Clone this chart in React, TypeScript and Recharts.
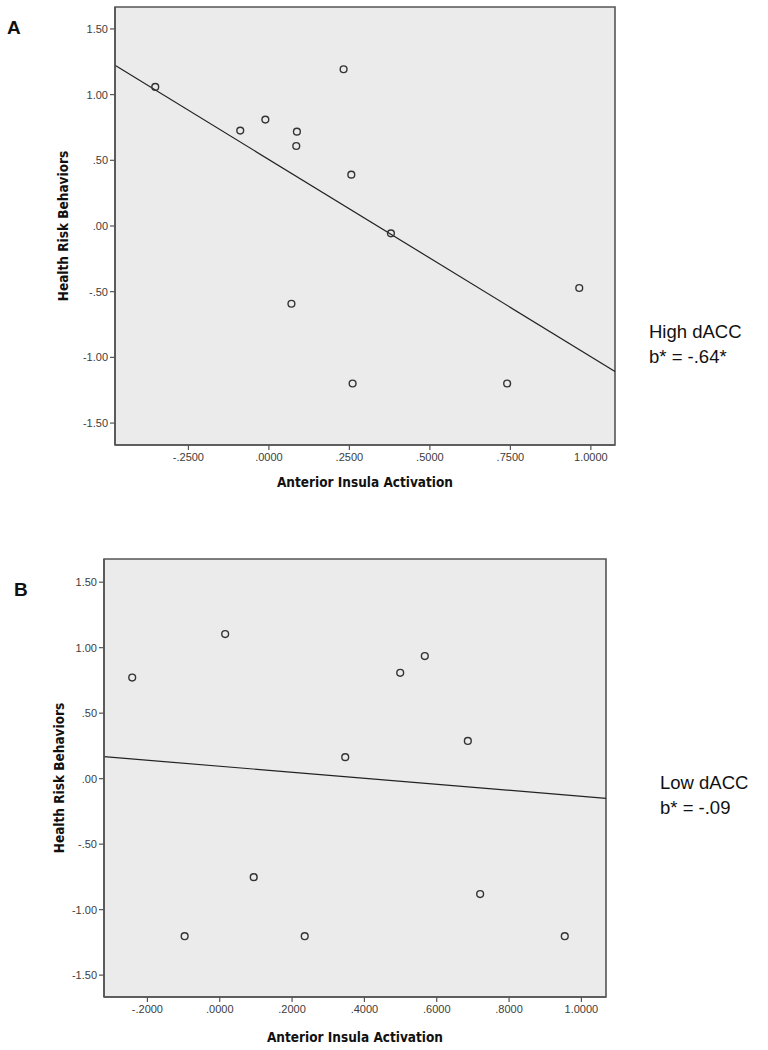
import React from 'react';
import {
  ScatterChart,
  Scatter,
  XAxis,
  YAxis,
  CartesianGrid,
  ReferenceArea,
  ReferenceLine,
} from 'recharts';

// Panel A (High dACC)
const insulaA = [-0.353, -0.089, -0.011, 0.087, 0.085, 0.232, 0.256, 0.379, 0.07, 0.26, 0.74, 0.964];
const riskA = [1.059, 0.726, 0.81, 0.718, 0.609, 1.193, 0.391, -0.056, -0.592, -1.199, -1.199, -0.472];
const fitXA = [-0.478, 1.075];
const fitYA = [1.223, -1.107];

// Panel B (Low dACC)
const insulaB = [-0.242, 0.015, 0.567, 0.499, 0.686, 0.347, 0.72, 0.094, -0.097, 0.235, 0.954];
const riskB = [0.772, 1.104, 0.936, 0.808, 0.288, 0.164, -0.881, -0.752, -1.203, -1.203, -1.203];
const fitXB = [-0.32, 1.068];
const fitYB = [0.168, -0.15];

const yTicks = [-1.5, -1, -0.5, 0, 0.5, 1, 1.5];
const yTickLabels = ['-1.50', '-1.00', '-.50', '.00', '.50', '1.00', '1.50'];
const xTicksA = [-0.25, 0, 0.25, 0.5, 0.75, 1];
const xTickLabelsA = ['-.2500', '.0000', '.2500', '.5000', '.7500', '1.0000'];
const xTicksB = [-0.2, 0, 0.2, 0.4, 0.6, 0.8, 1];
const xTickLabelsB = ['-.2000', '.0000', '.2000', '.4000', '.6000', '.8000', '1.0000'];

const xTitle = 'Anterior Insula Activation';
const yTitle = 'Health Risk Behaviors';

const TICK_FONT = "'Liberation Sans', Arial, sans-serif";
const TITLE_FONT = "'DejaVu Sans Condensed', 'Liberation Sans Narrow', 'Liberation Sans', Arial, sans-serif";

const toData = (xs: number[], ys: number[]) => xs.map((x, i) => ({ x, y: ys[i] }));

const Ring = (p: any) => (
  <circle cx={p.cx} cy={p.cy} r={3.4} fill="none" stroke="#333" strokeWidth={1.4} />
);

type PanelProps = {
  xs: number[];
  ys: number[];
  fitX: number[];
  fitY: number[];
  xTicks: number[];
  xLabels: string[];
  xDomain: [number, number];
  yDomain: [number, number];
  height: number;
  margin: { top: number; right: number; left: number; bottom: number };
  yTitleOffset: number;
  xTitleOffset: number;
};

function Panel(props: PanelProps) {
  const { xs, ys, fitX, fitY, xTicks, xLabels, xDomain, yDomain, height, margin, yTitleOffset, xTitleOffset } = props;
  const data = toData(xs, ys);
  const fmtX = (v: number) => {
    const i = xTicks.findIndex((t) => Math.abs(t - v) < 1e-9);
    return i >= 0 ? xLabels[i] : '';
  };
  const fmtY = (v: number) => {
    const i = yTicks.findIndex((t) => Math.abs(t - v) < 1e-9);
    return i >= 0 ? yTickLabels[i] : '';
  };
  const tickStyle = { fontSize: 11, fill: '#3c3c3c', fontFamily: TICK_FONT };
  const titleStyle = {
    fontSize: 13.5,
    fontWeight: 'bold' as const,
    fill: '#111',
    fontFamily: TITLE_FONT,
    textAnchor: 'middle' as const,
  };
  return (
    <ScatterChart width={768} height={height} margin={margin}>
      <CartesianGrid fill="#ebebeb" fillOpacity={1} horizontal={false} vertical={false} stroke="none" />
      <XAxis
        type="number"
        dataKey="x"
        domain={xDomain}
        allowDataOverflow
        ticks={xTicks}
        interval={0}
        tickFormatter={fmtX}
        tick={tickStyle}
        tickSize={5}
        tickMargin={3}
        height={50}
        axisLine={{ stroke: '#555', strokeWidth: 1.6 }}
        tickLine={{ stroke: '#555', strokeWidth: 1.2 }}
        label={{ value: xTitle, position: 'insideBottom', offset: xTitleOffset, style: titleStyle }}
      />
      <YAxis
        type="number"
        dataKey="y"
        domain={yDomain}
        allowDataOverflow
        ticks={yTicks}
        interval={0}
        tickFormatter={fmtY}
        tick={tickStyle}
        tickSize={5}
        tickMargin={2}
        width={65}
        axisLine={{ stroke: '#555', strokeWidth: 1.6 }}
        tickLine={{ stroke: '#555', strokeWidth: 1.2 }}
        label={{ value: yTitle, position: 'insideLeft', angle: -90, offset: yTitleOffset, style: titleStyle }}
      />
      <ReferenceArea
        x1={xDomain[0]}
        x2={xDomain[1]}
        y1={yDomain[0]}
        y2={yDomain[1]}
        fill="none"
        fillOpacity={0}
        stroke="#555"
        strokeWidth={1.6}
        ifOverflow="visible"
      />
      <ReferenceLine
        segment={[
          { x: fitX[0], y: fitY[0] },
          { x: fitX[1], y: fitY[1] },
        ]}
        stroke="#222"
        strokeWidth={1.2}
        ifOverflow="visible"
      />
      <Scatter data={data} shape={Ring} isAnimationActive={false} />
    </ScatterChart>
  );
}

const panelLetter: React.CSSProperties = {
  position: 'absolute',
  fontFamily: "'Liberation Sans', Arial, sans-serif",
  fontWeight: 'bold',
  fontSize: 19,
  color: '#111',
  lineHeight: 1,
};

const note: React.CSSProperties = {
  position: 'absolute',
  fontFamily: "'Liberation Sans', Arial, sans-serif",
  fontSize: 18.5,
  color: '#111',
  lineHeight: '25px',
  whiteSpace: 'nowrap',
};

export default function App() {
  return (
    <div style={{ position: 'absolute', left: 0, top: 0, width: 768, height: 1050, background: '#fff' }}>
      <div style={{ position: 'absolute', left: 0, top: 0 }}>
        <Panel
          xs={insulaA}
          ys={riskA}
          fitX={fitXA}
          fitY={fitYA}
          xTicks={xTicksA}
          xLabels={xTickLabelsA}
          xDomain={[-0.478, 1.075]}
          yDomain={[-1.667, 1.667]}
          height={500}
          margin={{ top: 7, right: 153, left: 50, bottom: 5 }}
          yTitleOffset={13}
          xTitleOffset={8}
        />
      </div>
      <div style={{ position: 'absolute', left: 0, top: 540 }}>
        <Panel
          xs={insulaB}
          ys={riskB}
          fitX={fitXB}
          fitY={fitYB}
          xTicks={xTicksB}
          xLabels={xTickLabelsB}
          xDomain={[-0.32, 1.068]}
          yDomain={[-1.667, 1.677]}
          height={510}
          margin={{ top: 19, right: 162, left: 39, bottom: 3 }}
          yTitleOffset={20}
          xTitleOffset={5}
        />
      </div>
      <div style={{ ...panelLetter, left: 7, top: 18 }}>A</div>
      <div style={{ ...panelLetter, left: 14, top: 580 }}>B</div>
      <div style={{ ...note, left: 649, top: 319 }}>
        High dACC
        <br />
        b* = -.64*
      </div>
      <div style={{ ...note, left: 660, top: 770 }}>
        Low dACC
        <br />
        b* = -.09
      </div>
    </div>
  );
}
